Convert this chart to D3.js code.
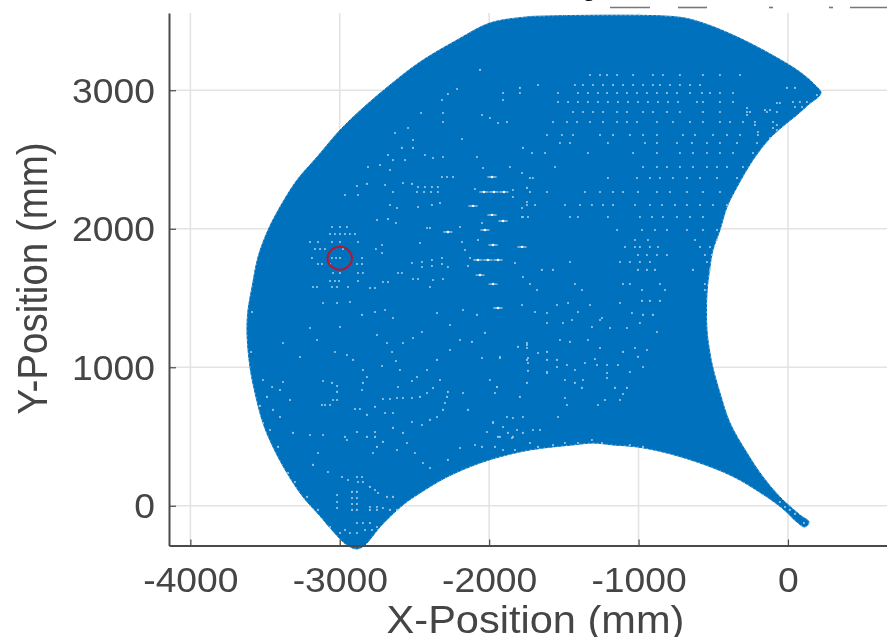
<!DOCTYPE html>
<html>
<head>
<meta charset="utf-8">
<script src="https://cdn.jsdelivr.net/npm/d3@7"></script>
<style>
  html, body { margin: 0; padding: 0; background: #fff; overflow: hidden; }
  svg { display: block; filter: blur(0.4px); }
  text { font-family: "Liberation Sans", Arial, sans-serif; fill: #454545; }
</style>
</head>
<body>
<svg id="chart" width="887" height="637"></svg>
<script>
const xTicks = [-4000, -3000, -2000, -1000, 0];
const yTicks = [0, 1000, 2000, 3000];
const xTitle = 'X-Position (mm)';
const yTitle = 'Y-Position (mm)';
const marked = [-3000, 1787];

// outline of the reachable area, clockwise from the top (mm)
const outline = [
  [-1673, 3535], [-743, 3530], [-589, 3493], [-368, 3399], [-141, 3276], [80, 3132], [174, 3045], [221, 2980],
  [134, 2894], [60, 2822], [-7, 2764], [-120, 2655], [-234, 2497], [-341, 2302], [-408, 2157], [-455, 1991],
  [-502, 1847], [-522, 1724], [-542, 1536], [-542, 1269], [-522, 1103], [-502, 995], [-455, 814], [-388, 598],
  [-274, 381], [-167, 208], [-54, 64], [80, -66], [141, -117], [114, -153], [67, -124], [-40, -16],
  [-234, 129], [-388, 222], [-609, 316], [-837, 388], [-1011, 425], [-1171, 439], [-1305, 453], [-1439, 439],
  [-1573, 425], [-1727, 403], [-1881, 367], [-2061, 309], [-2282, 208], [-2463, 92], [-2577, 6], [-2731, -153],
  [-2784, -225], [-2831, -283], [-2885, -312], [-2952, -283], [-3065, -160], [-3132, -74], [-3246, 64], [-3353, 237],
  [-3447, 425], [-3514, 598], [-3567, 814], [-3601, 1002], [-3621, 1248], [-3614, 1414], [-3587, 1580], [-3547, 1796],
  [-3480, 1991], [-3400, 2157], [-3286, 2352], [-3152, 2518], [-2998, 2713], [-2845, 2872], [-2664, 3038], [-2463, 3204],
  [-2215, 3363], [-1995, 3486], [-1747, 3530]
];

// the brightest uncovered spots
const holesBright = [
  [-1981, 2374], [-2035, 2266], [-1968, 2266], [-1901, 2266], [-2108, 2165], [-1981, 2100], [-1907, 2056], [-2028, 1991],
  [-1974, 1883], [-2075, 1775], [-2008, 1775], [-1941, 1775], [-2061, 1666], [-1974, 1601], [-1780, 1869], [-2276, 1977],
  [-1941, 1428]
];

// fainter uncovered spots: each entry is [x values, y value or y values]
const holesLeft = [
  [[-3065, -3032, -2998, -2965, -2932, -2898], 1962],
  [[-3052, -2998, -2952], 2013],
  [[-3199, -3146, -3052, -2998, -2878], 1905],
  [[-3166, -3132, -3099, -2978], 1854],
  [[-3186, -3052, -3025, -2998, -2851], 1789],
  [[-3146, -3119, -3065, -2885, -2851], 1746],
  [[-3045, -2998, -2878, -2845], 1681],
  [[-3065, -3032, -3005, -2878], 1623],
  [[-3179, -3152, -3052, -3018, -2945], 1580],
  [[-2885, -2818, -2965, -2878, -2697, -2644, -2577, -2517], [2309, 2324, 2244, 2244, 2316, 2266, 2331, 2324]],
  [[-2476, -2430, -2383, -2343], 2302],
  [[-2483, -2436, -2389, -2343], 2266],
  [[-2316, -2282, -2242], 2374],
  [[-2644, -2563, -2430, -2376, -2309], [2496, 2496, 2533, 2511, 2518]],
  [[-2811, -2731, -2664, -2677, -2584, -2510], [2446, 2461, 2424, 2533, 2584, 2584]],
  [[-2510, -2630, -2543, -2456, -2309, -2309], [2641, 2692, 2728, 2836, 2771, 2836]],
  [[-2316, -2276, -2215, -2061], [2930, 2973, 3009, 3147]],
  [[-1907, -1907, -1794, -1794, -1941, -1881], [2980, 2930, 3017, 2980, 2764, 2771]],
  [[-2664, -2617, -2476, -2383, -2329], [2172, 2150, 2157, 2172, 2186]],
  [[-2751, -2677, -2624, -2416, -2396], [2063, 2070, 2042, 2006, 2006]],
  [[-2717, -2717, -2463, -2758], [1883, 1825, 1897, 1854]],
  [[-2517, -2450, -2383, -2316, -2450, -2383, -2316, -2276], [1753, 1760, 1775, 1789, 1724, 1731, 1746, 1724]],
  [[-2610, -2584, -2510, -2476, -2376, -2309], [1681, 1681, 1637, 1637, 1630, 1637]],
  [[-2711, -2677, -2798, -2764, -2396], [1616, 1616, 1572, 1572, 1580]],
  [[-1774, -1861, -1780, -1841, -1747, -1841], [2584, 2446, 2403, 2280, 2295, 2229]],
  [[-1747, -1780, -1774, -1827, -1774, -2142], [2193, 2150, 2085, 1753, 1652, 1731]],
  [[-2128, -2162, -2195, -2182, -2041, -2095], [1789, 1847, 2013, 1905, 2439, 2287]],
  [[-2075, -2048, -2182, -2082, -1995, -2048], [1919, 2042, 2648, 2518, 2800, 2821]]
];

const holesLower = [
  [[-2650, -2624, -2597, -2717, -2610, -2517], [1110, 1045, 980, 1009, 858, 901]],
  [[-2845, -2818, -2845, -2851, -2911, -2952, -3032], [980, 930, 887, 836, 1053, 1089, 1110]],
  [[-3099, -3065, -3045, -3018, -3119], [728, 728, 764, 764, 728]],
  [[-3052, -3018, -3112, -3018], [887, 865, 901, 822]],
  [[-2898, -2865, -2818, -2764, -2697, -2644], [699, 699, 656, 714, 670, 670]],
  [[-2711, -2664, -2617, -2577, -2517, -2463, -2416, -2376, -2329], [771, 771, 778, 778, 778, 786, 814, 850, 908]],
  [[-2296, -2282, -2276, -2309, -2349, -2396, -2450, -2517], [742, 786, 822, 692, 641, 620, 583, 605]],
  [[-2764, -2764, -2751, -2711, -2644, -2577, -2952, -2965, -2885, -2818], [533, 497, 425, 461, 562, 526, 475, 497, 533, 497]],
  [[-2778, -2617, -2550, -2497, -2443, -2396], [381, 403, 453, 381, 309, 273]],
  [[-2885, -2851, -2845, -2878, -2945, -2985], [208, 208, 172, 172, 186, 208]],
  [[-2918, -2885], 100], [[-2918, -2885], 56], [[-2918, -2885], 13], [[-2918, -2885], -30],
  [[-3018, -3018, -3018], [78, 27, -16]],
  [[-2798, -2764, -2744, -2684, -2644], [136, 114, 92, 64, 64]],
  [[-2798, -2751, -2711, -2664, -2617, -2798, -2751], [-9, -9, -16, -30, -30, -30, -30]],
  [[-2885, -2845, -2798, -2965, -2932, -2885, -2831, -2784, -2751, -2998], [-124, -124, -124, -175, -197, -197, -175, -175, -153, -197]],
  [[-3594, -3587, -3534, -3514, -3453, -3380, -3487, -3400, -3333], [1110, 1399, 721, 908, 858, 894, 786, 836, 764]],
  [[-3447, -3400, -3514, -3467, -3413, -3346, -3300, -3219, -3146, -3065], [692, 641, 598, 547, 425, 237, 172, 64, -30, -153]],
  [[-3266, -3152, -2998, -3380, -3199, -3313, -3199, -3112, -3179, -3079, -3146], [1074, 1197, 1291, 1175, 1284, 526, 511, 511, 295, 244, 381]],
  [[-2751, -2684, -2577, -2510, -2450], [1233, 1175, 1175, 1211, 1255]],
  [[-2851, -2764, -2697, -2644, -2932, -3112, -3018], [1378, 1399, 1414, 1356, 1471, 1464, 1464]],
  [[-2349, -2262, -2175, -2082, -2028, -2115, -2195, -2262, -2349, -2416, -2483], [1392, 1305, 1414, 1378, 1248, 1183, 1197, 1125, 1053, 980, 930]],
  [[-2175, -2142, -2015, -1928, -1841, -1881, -1948, -1974], [814, 692, 533, 497, 497, 641, 858, 605]],
  [[-2095, -2195, -2276, -1747, -1747, -1928], [439, 417, 331, 1161, 1053, 1074]],
  [[-54, -20, 13, 47, 107], [27, -9, -30, -59, -124]]
];

const holesCentre = [
  [[-1780, -1693, -1613, -1546, -1472, -1406, -1325, -1245, -1124, -1044], [1450, 1399, 1392, 1450, 1464, 1399, 1450, 1356, 1464, 1392]],
  [[-977, -924, -857], 1479], [[-970, -904], 1378],
  [[-1613, -1506, -1446, -1312, -1258, -1191, -1078, -991, -877], [1320, 1320, 1341, 1291, 1341, 1284, 1284, 1320, 1255]],
  [[-1807, -1747, -1747, -1673, -1613, -1526, -1459, -1339, -1258, -1104, -1024, -944], [1147, 1175, 1139, 1103, 1111, 1197, 1183, 1197, 1139, 1111, 1139, 1125]],
  [[-1740, -1740, -1740, -1613, -1613, -1546, -1546, -1479, -1426], [1067, 1031, 974, 1053, 966, 1053, 1002, 1016, 980]],
  [[-1359, -1292, -1278, -1211, -1211, -1138, -1004, -970, -1058], [1031, 1060, 1016, 1016, 959, 1016, 1075, 1002, 966]],
  [[-1928, -2048, -1995, -1948, -1961, -1794, -1747, -1613, -1493, -1426, -1372, -1211], [1067, 1067, 908, 858, 814, 786, 887, 959, 908, 887, 908, 923]],
  [[-1158, -1078, -1104, -1124, -1225, -1272, -1379, -1479, -1493], [851, 851, 807, 764, 764, 728, 851, 728, 778]],
  [[-1974, -1907, -1841, -1774, -1874, -1814, -1941, -1847, -1774, -1707, -1660, -1539], [598, 569, 634, 641, 526, 547, 497, 489, 526, 547, 547, 641]],
  [[-1727, -2048, -1961, -1907, -1827, -1673, -1573, -1493, -1406, -1312, -1245, -1058, -970], [453, 425, 425, 403, 403, 425, 439, 453, 453, 475, 453, 439, 425]]
];

const holesUpper = [
  [[-1325, -1258, -1211, -1144, -1037, -904, -837, -723, -569, -455, -321], 3110],
  [[-1673, -1426, -1372, -1305, -1238, -1171, -1104, -1037, -970, -904, -857, -790, -723, -656, -589], 3038],
  [[-1539, -1406, -1339, -1272, -1211, -1144, -1078, -1011, -944, -877, -810, -743, -656, -576, -522, -455, -368], 2980],
  [[-1539, -1472, -1406, -1339, -1272, -1205, -1138, -1071, -1004, -937, -870, -803, -736, -609, -569, -455, -368], 2915],
  [[-1439, -1372, -1305, -1238, -1144, -1078, -970, -904, -810, -723, -569, -455, -274, -141, -74], 2843],
  [[33, 80, 127, 47, 94, -274, -254, -274, -154, -120, -74, -54, -7, 47, 194], [2915, 2915, 2915, 2879, 2879, 2872, 2843, 2821, 2857, 2857, 2908, 2908, 3017, 3017, 2966]],
  [[-221, -221, -100, -74, -100, -74, -120, -201], [2771, 2749, 2771, 2749, 2728, 2713, 2655, 2699]],
  [[-1573, -1479, -1412, -1325, -1238, -1144, -1078, -1011, -877, -770, -656, -569, -455, -388, -301], 2771],
  [[-1613, -1513, -1439, -1258, -1171, -1058, -970, -877, -703, -622, -502, -408, -321, -201], 2677],
  [[-1526, -1459, -1205, -957, -877, -743, -643, -542, -455, -341, -207], 2619],
  [[-1713, -1626, -1339, -1037, -877, -723, -636, -542, -455, -368, -234], 2547],
  [[-1559, -970, -877, -810, -723, -636, -542, -475, -408, -301], 2446],
  [[-1727, -1707, -1205, -1011, -924, -857, -770, -676, -589, -475, -341], 2367],
  [[-1727, -1613, -1359, -1258, -1171, -1104, -1004, -877, -790, -676, -569, -455], 2266],
  [[-1747, -1693, -1493, -1392, -1312, -1238, -1171, -1024, -924, -843, -756, -676, -589, -502, -408], 2172],
  [[-1780, -1740, -1459, -1406, -1205, -991, -910, -837, -743, -656, -569], 2085],
  [[-1144, -977, -890, -810, -676, -569, -475], 1991],
  [[-1024, -937, -622, -475], 1919],
  [[-1091, -1024, -991, -924, -870, -589, -522], 1868],
  [[-1004, -944, -877, -810, -556, -509], 1811],
  [[-1459, -1124, -1058, -991, -924, -542], 1760],
  [[-1647, -1573, -1004, -944, -890, -636, -522], 1703],
  [[-1727, -1426, -1104, -1058, -857, -556], 1601],
  [[-1680, -1379, -977, -823, -556], 1558]
];

const width = 887;
const height = 637;
const svg = d3.select('#chart');

const x = d3.scaleLinear().domain([-4143, 663]).range([169, width]);
const y = d3.scaleLinear().domain([-287, 3558]).range([545.5, 13]);

const blue = '#0071bd';
const gridColor = '#e3e3e3';
const axisColor = '#4a4a4a';

// grid sits under the marks
const grid = svg.append('g').attr('stroke', gridColor).attr('stroke-width', 1.6);
grid.selectAll('.gx').data(xTicks).enter().append('line')
  .attr('x1', d => x(d)).attr('x2', d => x(d))
  .attr('y1', y.range()[1]).attr('y2', y.range()[0]);
grid.selectAll('.gy').data(yTicks).enter().append('line')
  .attr('x1', x.range()[0]).attr('x2', x.range()[1])
  .attr('y1', d => y(d)).attr('y2', d => y(d));

const line = d3.line().x(d => x(d[0])).y(d => y(d[1])).curve(d3.curveCatmullRomClosed.alpha(0.5));
svg.append('path')
  .attr('d', line(outline))
  .attr('fill', blue)
  .attr('stroke', blue)
  .attr('stroke-width', 1)
  .attr('stroke-linejoin', 'round');

// fuzzy rim left by the individual markers
svg.append('path')
  .attr('d', line(outline))
  .attr('fill', 'none')
  .attr('stroke', '#ffffff')
  .attr('stroke-opacity', 0.4)
  .attr('stroke-width', 1)
  .attr('stroke-dasharray', '1.5 3');

const flatten = (groups) => groups.flatMap(([xs, ys]) =>
  xs.map((v, i) => [v, Array.isArray(ys) ? ys[i] : ys]));
const holes = flatten(holesLeft).concat(flatten(holesLower), flatten(holesCentre), flatten(holesUpper));

svg.append('g').selectAll('circle').data(holes).enter().append('circle')
  .attr('cx', d => x(d[0]))
  .attr('cy', d => y(d[1]))
  .attr('r', 1.05)
  .attr('fill', '#a3cbea');

const bright = svg.append('g').selectAll('g').data(holesBright).enter().append('g')
  .attr('transform', d => `translate(${x(d[0])},${y(d[1])})`);
bright.append('ellipse').attr('rx', 5).attr('ry', 0.9).attr('fill', '#8cbde2');
bright.append('circle').attr('r', 1.2).attr('fill', '#ffffff');

svg.append('ellipse')
  .attr('cx', x(marked[0]))
  .attr('cy', y(marked[1]))
  .attr('rx', 12.2)
  .attr('ry', 11.4)
  .attr('fill', 'none')
  .attr('stroke', '#b2182f')
  .attr('stroke-width', 2);

// axes
const xAxis = d3.axisBottom(x).tickValues(xTicks).tickFormat(d => String(d)).tickSizeInner(-6).tickSizeOuter(0);
const yAxis = d3.axisLeft(y).tickValues(yTicks).tickFormat(d => String(d)).tickSizeInner(-7).tickSizeOuter(0);

const gx = svg.append('g').attr('transform', `translate(0,${y.range()[0]})`).call(xAxis);
const gy = svg.append('g').attr('transform', `translate(${x.range()[0]},0)`).call(yAxis);

[gx, gy].forEach(g => {
  g.select('.domain').attr('stroke', axisColor).attr('stroke-width', 2);
  g.selectAll('.tick line').attr('stroke', axisColor).attr('stroke-width', 1.2);
  g.selectAll('text').style('font-family', '"Liberation Sans", Arial, sans-serif').style('fill', '#454545').attr('font-size', 34.5);
});

// the picture is stretched a little sideways, so the labels are too
gx.selectAll('.tick text')
  .attr('dy', null)
  .attr('y', 46.5)
  .attr('transform', 'scale(1.08,1)');
gy.selectAll('.tick text')
  .attr('dy', null)
  .attr('x', -13)
  .attr('y', 12)
  .attr('transform', 'scale(1.08,1)');

svg.append('text')
  .attr('text-anchor', 'middle')
  .attr('font-size', 38.5)
  .attr('transform', 'translate(535.5,633) scale(1.08,1)')
  .text(xTitle);

svg.append('text')
  .attr('text-anchor', 'middle')
  .attr('font-size', 38.5)
  .attr('transform', 'translate(47,278.5) scale(1.08,1) rotate(-90)')
  .text(yTitle);

// what is left of the cut-off heading along the top edge
svg.append('text').attr('x', 278).attr('y', -4).attr('font-size', 26).style('fill', '#111').text(',');
svg.append('text').attr('x', 582).attr('y', -4).attr('font-size', 26).style('fill', '#111').text('g');
svg.append('g').attr('stroke', '#777').attr('stroke-width', 1.6)
  .selectAll('line').data([[610, 650], [678, 707], [769, 773], [829, 833], [850, 887]]).enter().append('line')
  .attr('x1', d => d[0]).attr('x2', d => d[1]).attr('y1', 7.5).attr('y2', 7.5);
</script>
</body>
</html>
